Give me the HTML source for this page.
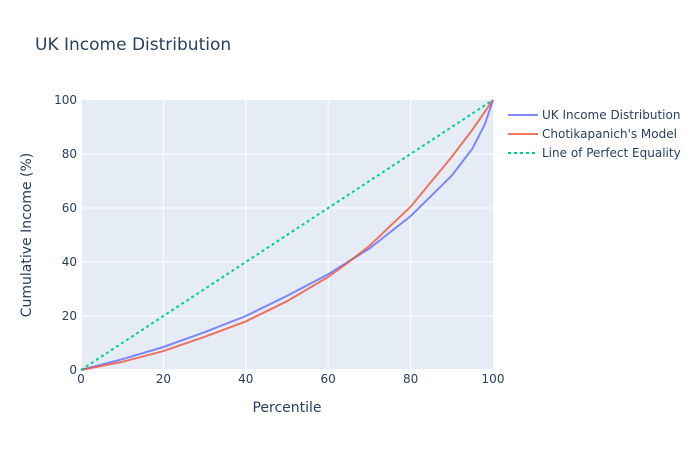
<!DOCTYPE html>
<html><head><meta charset="utf-8"><style>body{margin:0;background:#fff}svg{font-family:"DejaVu Sans","Liberation Sans",sans-serif}</style></head><body>
<svg width="700" height="450" xmlns="http://www.w3.org/2000/svg">
<rect width="700" height="450" fill="#fff"/>
<rect x="81" y="100" width="412" height="270" fill="#e5ecf6"/>
<g stroke="#fff" stroke-width="1">
<line x1="163.4" y1="100" x2="163.4" y2="370"/><line x1="245.8" y1="100" x2="245.8" y2="370"/><line x1="328.2" y1="100" x2="328.2" y2="370"/><line x1="410.6" y1="100" x2="410.6" y2="370"/>
<line x1="81" y1="316" x2="493" y2="316"/><line x1="81" y1="262" x2="493" y2="262"/><line x1="81" y1="208" x2="493" y2="208"/><line x1="81" y1="154" x2="493" y2="154"/>
</g>
<line x1="81" y1="370" x2="493" y2="370" stroke="#fff" stroke-width="2"/>
<line x1="81" y1="100" x2="81" y2="370" stroke="#fff" stroke-width="2"/>
<g fill="#2a3f5f" font-size="12">
<g text-anchor="middle">
<text x="81" y="383">0</text><text x="163.4" y="383">20</text><text x="245.8" y="383">40</text><text x="328.2" y="383">60</text><text x="410.6" y="383">80</text><text x="493" y="383">100</text>
</g>
<g text-anchor="end">
<text x="77" y="374">0</text><text x="77" y="320">20</text><text x="77" y="266">40</text><text x="77" y="212">60</text><text x="77" y="158">80</text><text x="77" y="104">100</text>
</g>
</g>
<text x="35" y="50" font-size="17" fill="#2a3f5f">UK Income Distribution</text>
<text x="287" y="412" font-size="14" fill="#2a3f5f" text-anchor="middle">Percentile</text>
<text transform="translate(31,235) rotate(-90)" font-size="14" fill="#2a3f5f" text-anchor="middle">Cumulative Income (%)</text>
<g fill="none" stroke-width="2">
<polyline stroke="#636efa" opacity="0.8" points="81,370 122.2,359.2 163.4,347 204.6,332.2 245.8,316 287,295.8 328.2,274.2 369.4,248.5 410.6,216.1 451.8,175.6 472.4,148.6 484.8,124.3 489,112 493,100"/>
<polyline stroke="#ef553b" opacity="0.8" points="81,370 122.2,361.9 163.4,351.1 204.6,336.8 245.8,321.4 287,301.2 328.2,276.9 348.8,262 369.4,245.8 410.6,206.7 451.8,156.7 472.4,129.7 493,100"/>
<line x1="81" y1="370" x2="493" y2="100" stroke="#00cc96" stroke-dasharray="3,3"/>
</g>
<g font-size="12" fill="#2a3f5f">
<line x1="508" y1="115" x2="538" y2="115" stroke="#636efa" stroke-width="2" opacity="0.8"/>
<text x="542" y="119">UK Income Distribution</text>
<line x1="508" y1="134" x2="538" y2="134" stroke="#ef553b" stroke-width="2" opacity="0.8"/>
<text x="542" y="138">Chotikapanich's Model</text>
<line x1="508" y1="153" x2="538" y2="153" stroke="#00cc96" stroke-width="2" stroke-dasharray="3,3"/>
<text x="542" y="157">Line of Perfect Equality</text>
</g>
</svg>
</body></html>
